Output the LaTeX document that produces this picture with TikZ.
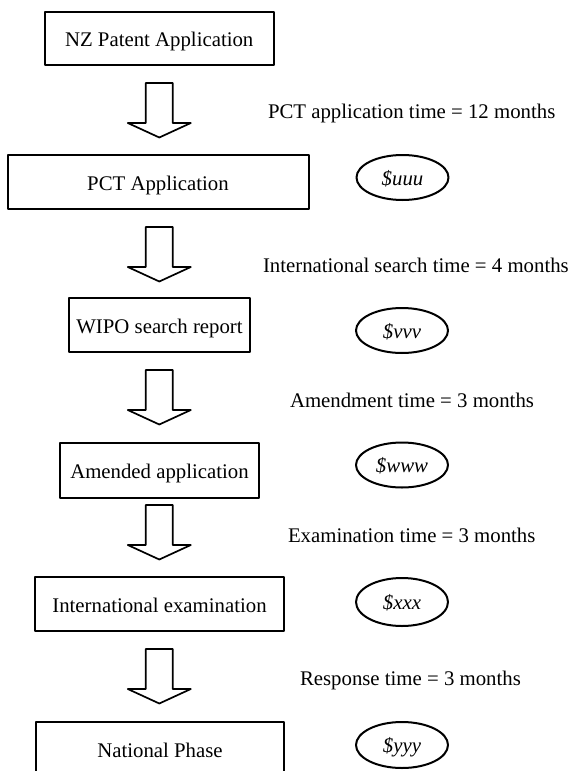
\documentclass[tikz,border=0pt]{standalone}
\usepackage{fontspec}
\setmainfont{Liberation Serif}
\usetikzlibrary{shapes.geometric}
\begin{document}
\begin{tikzpicture}[x=1pt,y=-1pt,line join=round,line width=2pt,
  font=\fontsize{20.8}{25}\selectfont,
  box/.style={draw,inner sep=0pt,minimum height=54pt,text height=17pt,text depth=0pt},
  cost/.style={draw,ellipse,inner sep=0pt,minimum width=92pt,minimum height=45pt,
    text height=15pt,text depth=0pt,font=\fontsize{20.8}{25}\selectfont\itshape},
  note/.style={anchor=base west,inner sep=0pt},
  bigarrow/.style={draw,line width=1.7pt}]
\useasboundingbox (0,0) rectangle (570,771);

\node[box,minimum width=229pt,minimum height=53pt] (nz) at (159.2,38.3) {NZ Patent Application};
\node[box,minimum width=301pt] (pct) at (158,182) {PCT Application};
\node[box,minimum width=181pt] (wipo) at (159.5,325) {WIPO search report};
\node[box,minimum width=199pt,minimum height=55pt] (amend) at (159.5,470) {Amended application};
\node[box,minimum width=249pt] (exam) at (159.5,604) {International examination};
\node[box,minimum width=248pt] (natl) at (160,749) {National Phase};

\node[cost] (uuu) at (402.5,177.5) {\$uuu};
\node[cost] (vvv) at (402,330.5) {\$vvv};
\node[cost] (www) at (402,465) {\$www};
\node[cost,minimum height=48pt] (xxx) at (402,602) {\$xxx};
\node[cost,minimum height=46pt] (yyy) at (402,745) {\$yyy};

\node[note] (tpct) at (267,118) {PCT application time = 12 months};
\node[note] (tsearch) at (262,272) {International search time = 4 months};
\node[note] (tamend) at (289,407) {Amendment time = 3 months};
\node[note] (texam) at (287,542) {Examination time = 3 months};
\node[note] (tresp) at (299,685) {Response time = 3 months};

\foreach \i/\t in {1/83,2/227,3/370,4/505,5/649}
\draw[bigarrow] (159.3,\t) coordinate (a\i)
  ++(-13.5,0) -- ++(27,0) -- ++(0,40) -- ++(18,0) -- ++(-31.5,14.5)
  -- ++(-31.5,-14.5) -- ++(18,0) -- cycle;

\end{tikzpicture}
\end{document}
